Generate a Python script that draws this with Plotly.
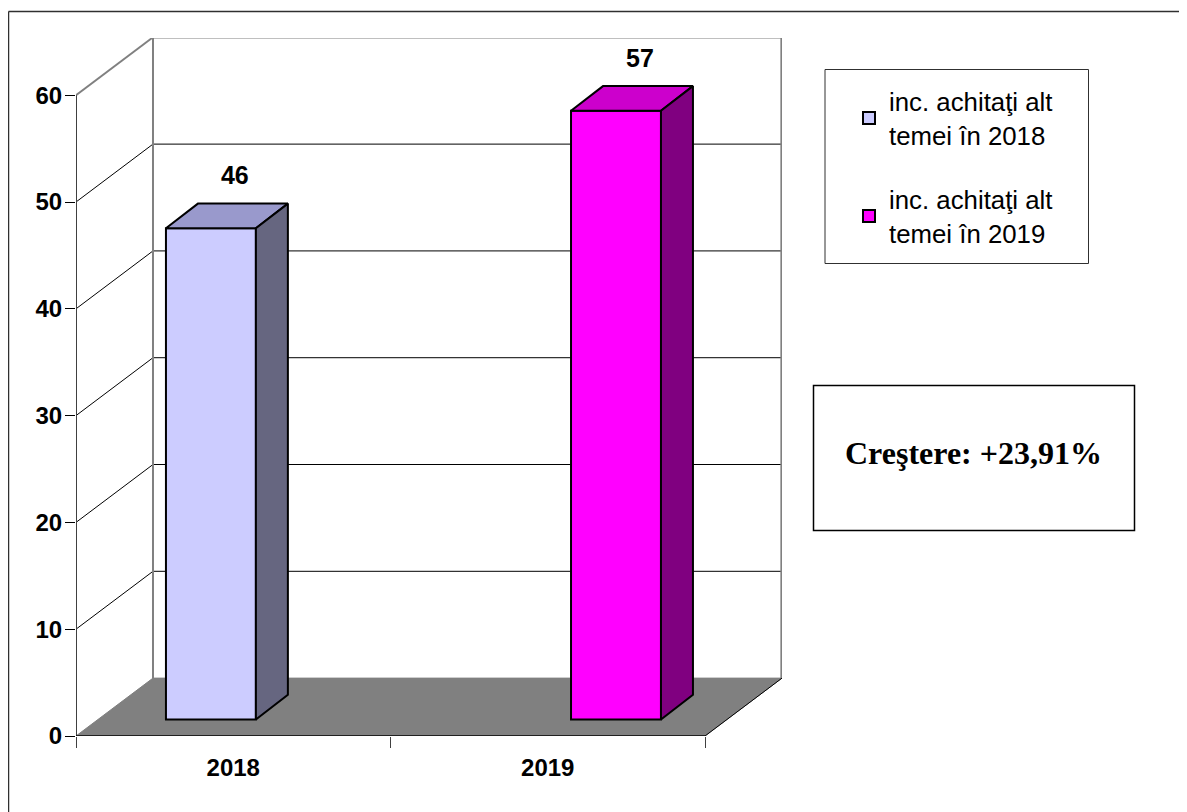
import plotly.graph_objects as go

# ---------- data ----------
years = ["2018", "2019"]
values = [46, 57]
series_names = ["inc. achitaţi alt<br>temei în 2018", "inc. achitaţi alt<br>temei în 2019"]
y_ticks = [0, 10, 20, 30, 40, 50, 60]
growth_label = "Creştere: +23,91%"

# ---------- styling / geometry ----------
front_colors = ["#CCCCFF", "#FF00FF"]
top_colors = ["#9999CC", "#CC00CC"]
side_colors = ["#666680", "#800080"]
bar_pos = [0.429, 1.717]
bar_width = 0.286
bar_base = 1.55
bar_dx, bar_dy = 0.1017, 2.3
wall_dx, wall_dy = 0.2448, 5.42
x_max = 2
OFF = 8
W, H = 1179, 804
ML, MR, MT, MB = 76 - OFF, 405, 38 - OFF, 76
PW, PH = W - ML - MR, H - MT - MB
AXIS = "#404040"
GREY = "#808080"
SANS = "Liberation Sans, Arial, sans-serif"
SERIF = "Liberation Serif, Times New Roman, serif"


def px(x):
    return (x - OFF - ML) / PW


def py(y):
    return 1 - (y - OFF - MT) / PH


fig = go.Figure()

# bars and their 3D faces
for i, name in enumerate(series_names):
    x0 = bar_pos[i] - bar_width / 2
    x1 = bar_pos[i] + bar_width / 2
    top = bar_base + values[i]
    fig.add_trace(go.Bar(
        x=[bar_pos[i]], y=[values[i]], base=[bar_base], width=[bar_width],
        name=name, legendgroup=years[i],
        marker=dict(color=front_colors[i], line=dict(color="black", width=2)),
        hoverinfo="skip",
    ))
    fig.add_trace(go.Scatter(
        x=[x0, x1, x1 + bar_dx, x0 + bar_dx, x0],
        y=[top, top, top + bar_dy, top + bar_dy, top],
        fill="toself", fillcolor=top_colors[i], mode="lines",
        line=dict(color="black", width=2), showlegend=False, hoverinfo="skip",
    ))
    fig.add_trace(go.Scatter(
        x=[x1, x1 + bar_dx, x1 + bar_dx, x1, x1],
        y=[bar_base, bar_base + bar_dy, top + bar_dy, top, bar_base],
        fill="toself", fillcolor=side_colors[i], mode="lines",
        line=dict(color="black", width=2), showlegend=False, hoverinfo="skip",
    ))
    fig.add_trace(go.Scatter(
        x=[bar_pos[i] + 0.076], y=[values[i] + 6.25], mode="text",
        text=[str(values[i])], textposition="middle center",
        textfont=dict(family=SANS, size=25, color="black", weight="bold"),
        cliponaxis=False, showlegend=False, hoverinfo="skip",
    ))

# axis lines
fig.add_trace(go.Scatter(
    x=[0, 0], y=[y_ticks[-1], 0], mode="lines", line=dict(color=AXIS, width=2),
    cliponaxis=False, showlegend=False, hoverinfo="skip",
))
fig.add_trace(go.Scatter(
    x=[0, x_max], y=[0, 0], mode="lines", line=dict(color="black", width=1.5),
    cliponaxis=False, showlegend=False, hoverinfo="skip",
))

# back wall, floor and gridlines
shapes = []


def seg(x0, y0, x1, y1, color, width):
    shapes.append(dict(type="line", xref="x", yref="y", layer="below",
                       x0=x0, y0=y0, x1=x1, y1=y1,
                       line=dict(color=color, width=width)))


for v in y_ticks[1:-1]:
    seg(0, v, wall_dx, v + wall_dy, "black", 1)
    seg(wall_dx, v + wall_dy, x_max + wall_dx, v + wall_dy, "black", 1)
top_v = y_ticks[-1]
seg(0, top_v, wall_dx, top_v + wall_dy, GREY, 2)
seg(wall_dx, top_v + wall_dy, x_max + wall_dx, top_v + wall_dy, GREY, 2.5)
seg(wall_dx, wall_dy, wall_dx, top_v + wall_dy, GREY, 2)
seg(x_max + wall_dx - 0.002, wall_dy, x_max + wall_dx - 0.002, top_v + wall_dy, GREY, 2)
shapes.append(dict(
    type="path", xref="x", yref="y", layer="below",
    path=f"M 0 0 L {x_max} 0 L {x_max + wall_dx} {wall_dy} L {wall_dx} {wall_dy} Z",
    fillcolor=GREY, line=dict(color=GREY, width=1),
))
seg(x_max, 0, x_max + wall_dx, wall_dy, "black", 1)


def box(x0, y0, x1, y1, color, width):
    shapes.append(dict(type="rect", xref="paper", yref="paper", layer="above",
                       x0=px(x0), y0=py(y0), x1=px(x1), y1=py(y1),
                       fillcolor="rgba(0,0,0,0)", line=dict(color=color, width=width)))


def pline(x0, y0, x1, y1, color, width):
    shapes.append(dict(type="line", xref="paper", yref="paper", layer="above",
                       x0=px(x0), y0=py(y0), x1=px(x1), y1=py(y1),
                       line=dict(color=color, width=width)))


pline(8.5, 11.5, 1187, 11.5, "#303030", 1.5)   # outer frame (top)
pline(8.5, 11.5, 8.5, 812, "#303030", 1.5)     # outer frame (left)
box(825, 69.5, 1088.5, 263.5, "#303030", 1)    # legend frame
box(813.5, 385.5, 1134.5, 530.5, "black", 1.5)  # growth frame

fig.update_layout(
    width=W, height=H,
    margin=dict(l=ML, r=MR, t=MT, b=MB, pad=0, autoexpand=False),
    paper_bgcolor="white", plot_bgcolor="rgba(0,0,0,0)",
    barmode="overlay",
    shapes=shapes,
    xaxis=dict(
        range=[0, PW / 314.5], tickmode="array",
        tickvals=[0.5, 1.5], ticktext=years, ticks="",
        ticklabelstandoff=15,
        tickfont=dict(family=SANS, size=24, color="black", weight="bold"),
        showgrid=False, zeroline=False, showline=False,
        minor=dict(tickmode="array", tickvals=[0, 1, 2], ticks="outside",
                   ticklen=11, tickwidth=1, tickcolor=AXIS, showgrid=False),
    ),
    yaxis=dict(
        range=[0, PH / 10.68], tickmode="array", tickvals=y_ticks,
        ticks="outside", ticklen=10, tickwidth=1, tickcolor="black",
        ticklabelstandoff=-2,
        tickfont=dict(family=SANS, size=24, color="black", weight="bold"),
        showgrid=False, zeroline=False, showline=False,
    ),
    legend=dict(
        x=px(849), y=py(78), xanchor="left", yanchor="top",
        bgcolor="rgba(0,0,0,0)", borderwidth=0,
        font=dict(family=SANS, size=25.8, color="black"),
        tracegroupgap=28, traceorder="grouped",
    ),
    showlegend=True,
    annotations=[dict(
        xref="paper", yref="paper", x=px(973.5), y=py(453),
        xanchor="center", yanchor="middle", showarrow=False,
        text=growth_label,
        font=dict(family=SERIF, size=32, color="black", weight="bold"),
    )],
)

fig.write_html("out.html")
